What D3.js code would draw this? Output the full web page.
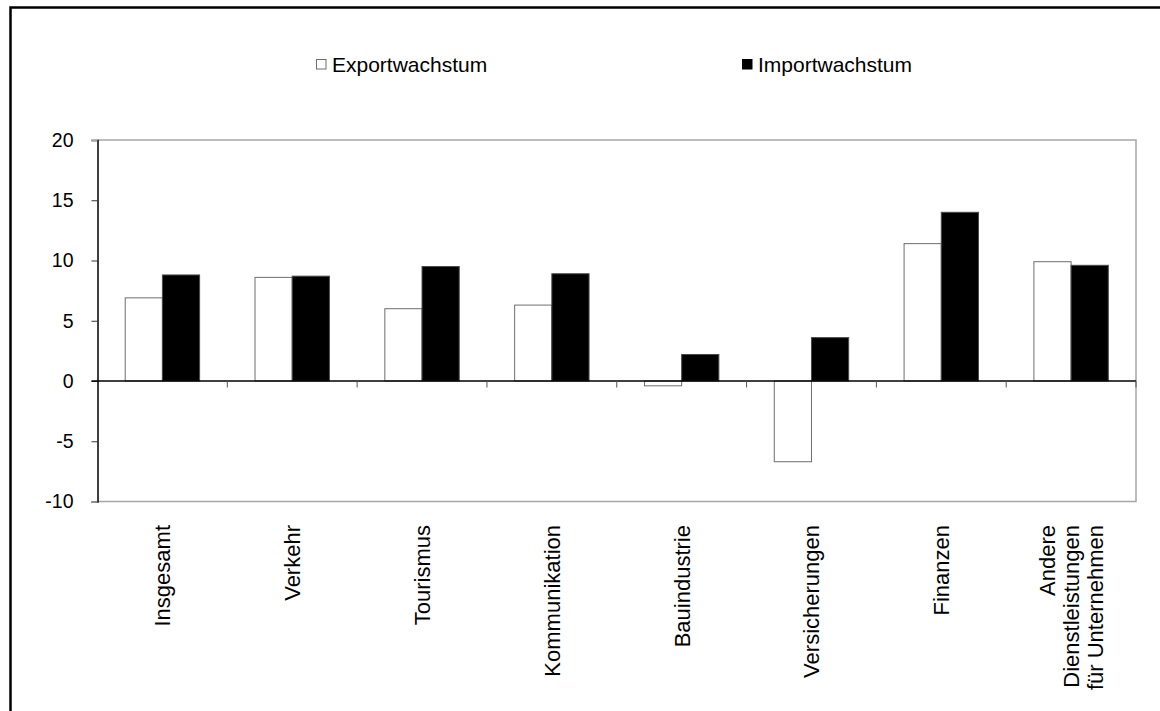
<!DOCTYPE html>
<html>
<head>
<meta charset="utf-8">
<script src="https://cdn.jsdelivr.net/npm/d3@7"></script>
<style>
  html, body { margin: 0; padding: 0; background: #fff; }
  svg { display: block; font-family: "Liberation Sans", Arial, sans-serif; }
</style>
</head>
<body>
<svg id="chart" width="1160" height="711"></svg>
<script>
// Growth of services trade by sector (%)
const categories = [
  "Insgesamt", "Verkehr", "Tourismus", "Kommunikation",
  "Bauindustrie", "Versicherungen", "Finanzen",
  "Andere Dienstleistungen für Unternehmen"
];
const categoryLines = [
  ["Insgesamt"], ["Verkehr"], ["Tourismus"], ["Kommunikation"],
  ["Bauindustrie"], ["Versicherungen"], ["Finanzen"],
  ["Andere", "Dienstleistungen", "für Unternehmen"]
];
const seriesNames = ["Exportwachstum", "Importwachstum"];
const exportGrowth = [6.9, 8.6, 6.0, 6.3, -0.4, -6.7, 11.4, 9.9];
const importGrowth = [8.8, 8.7, 9.5, 8.9, 2.2, 3.6, 14.0, 9.6];
const yTicks = [-10, -5, 0, 5, 10, 15, 20];

const rows = categories.map((c, i) => ({
  category: c,
  lines: categoryLines[i],
  values: [
    { key: seriesNames[0], value: exportGrowth[i] },
    { key: seriesNames[1], value: importGrowth[i] }
  ]
}));

const svg = d3.select("#chart");
const plot = { left: 97.5, right: 1136, top: 140, bottom: 501.5 };

const x0 = d3.scaleBand().domain(categories).range([plot.left, plot.right]).paddingInner(0).paddingOuter(0);
const x1 = d3.scaleBand().domain(seriesNames).range([0, x0.bandwidth()]).paddingInner(0).paddingOuter(0.745);
const y = d3.scaleLinear().domain([-10, 20]).range([plot.bottom, plot.top]);

const fills = { Exportwachstum: "#ffffff", Importwachstum: "#000000" };
const strokes = { Exportwachstum: "#6e6e6e", Importwachstum: "#4a4a4a" };

// outer frame
svg.append("rect")
  .attr("x", 10.5).attr("y", 7.5)
  .attr("width", 1300).attr("height", 900)
  .attr("fill", "none").attr("stroke", "#000").attr("stroke-width", 2.5);

// plot area border (top, right, bottom)
svg.append("path")
  .attr("d", `M${plot.left},${plot.top}H${plot.right}V${plot.bottom}H${plot.left}`)
  .attr("fill", "none").attr("stroke", "#a6a6a6").attr("stroke-width", 1.5);

// bars
const groups = svg.append("g").selectAll("g").data(rows).join("g")
  .attr("transform", d => `translate(${x0(d.category)},0)`);
groups.selectAll("rect").data(d => d.values).join("rect")
  .attr("x", d => x1(d.key))
  .attr("width", x1.bandwidth())
  .attr("y", d => y(Math.max(0, d.value)))
  .attr("height", d => Math.abs(y(d.value) - y(0)))
  .attr("fill", d => fills[d.key])
  .attr("stroke", d => strokes[d.key])
  .attr("stroke-width", 1);

// y axis
const yAxis = d3.axisLeft(y).tickValues(yTicks).tickSize(6).tickPadding(18).tickFormat(d => String(d));
const gy = svg.append("g").attr("transform", `translate(${plot.left},0)`).call(yAxis);
gy.select(".domain").attr("stroke", "#000").attr("stroke-width", 1.5);
gy.selectAll(".tick line")
  .attr("stroke", d => (d === 20 || d === -10) ? "#a6a6a6" : "#333")
  .attr("stroke-width", d => (d === 20 || d === -10) ? 1.5 : 1);
gy.selectAll(".tick text").attr("font-size", 19.5).attr("fill", "#000")
  .attr("font-family", "'Liberation Sans', Arial, sans-serif");

// zero line with category separators
const boundaries = d3.range(categories.length + 1).map(i => plot.left + i * x0.step());
const gx = svg.append("g");
gx.append("line")
  .attr("x1", plot.left - 6).attr("x2", plot.right)
  .attr("y1", y(0)).attr("y2", y(0))
  .attr("stroke", "#000").attr("stroke-width", 1.5);
gx.selectAll("line.sep").data(boundaries.slice(1)).join("line")
  .attr("class", "sep")
  .attr("x1", d => d).attr("x2", d => d)
  .attr("y1", y(0)).attr("y2", y(0) + 6.5)
  .attr("stroke", "#555").attr("stroke-width", 1);

// category labels, rotated
const lineH = 24;
const labels = svg.append("g").selectAll("text").data(rows).join("text")
  .attr("transform", d => `translate(${x0(d.category) + x0.bandwidth() / 2},525) rotate(-90)`)
  .attr("text-anchor", "end")
  .attr("font-size", 22)
  .attr("fill", "#000");
labels.each(function(d) {
  const n = d.lines.length;
  d3.select(this).selectAll("tspan").data(d.lines).join("tspan")
    .attr("x", 0)
    .attr("y", (l, i) => (i - (n - 1) / 2) * lineH)
    .attr("dy", "0.36em")
    .text(l => l);
});

// legend
const legendItems = [
  { name: seriesNames[0], x: 316 },
  { name: seriesNames[1], x: 742 }
];
const lg = svg.append("g").selectAll("g").data(legendItems).join("g")
  .attr("transform", d => `translate(${d.x},59)`);
lg.append("rect")
  .attr("x", 0.5).attr("y", 0.5).attr("width", 9.5).attr("height", 9.5)
  .attr("fill", d => fills[d.name])
  .attr("stroke", d => d.name === seriesNames[0] ? "#6e6e6e" : "#000");
lg.append("text")
  .attr("x", 16).attr("y", 13)
  .attr("font-size", 21)
  .attr("fill", "#000")
  .text(d => d.name);
</script>
</body>
</html>
